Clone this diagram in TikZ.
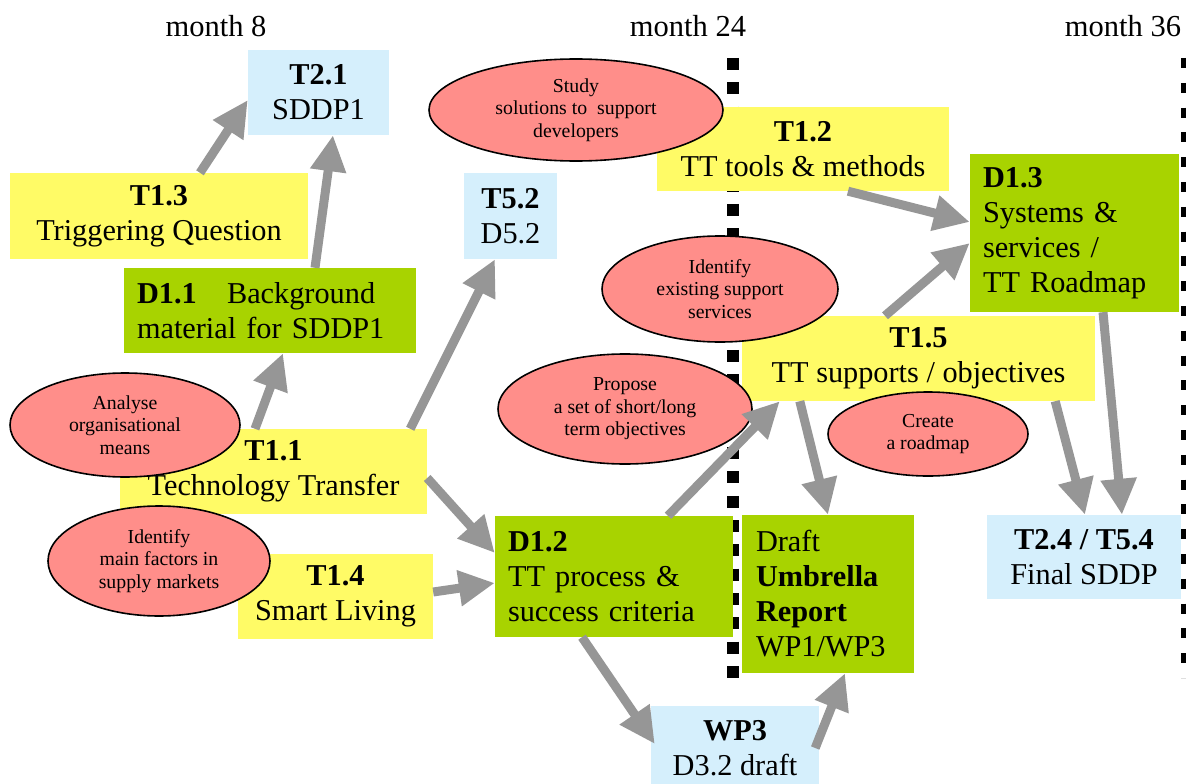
\documentclass[tikz,border=0pt]{standalone}
\usepackage{fontspec}
\setmainfont{Liberation Serif}
\usepackage{tikz}
\usetikzlibrary{arrows.meta,shapes.geometric,positioning}
\definecolor{taskyellow}{RGB}{255,251,102}
\definecolor{delivgreen}{RGB}{168,211,0}
\definecolor{sddpblue}{RGB}{213,239,252}
\definecolor{actred}{RGB}{255,142,138}
\definecolor{arrowgray}{RGB}{150,150,150}
\newcommand{\boxfont}{\fontsize{30.3}{35}\selectfont}
\newcommand{\ellfont}{\fontsize{19.8}{22.5}\selectfont}
\tikzstyle{task} = [rectangle, fill=taskyellow, inner sep=0pt, align=center, font=\boxfont]
\tikzstyle{deliv} = [rectangle, fill=delivgreen, inner sep=0pt, align=left, font=\boxfont]
\tikzstyle{sddp} = [rectangle, fill=sddpblue, inner sep=0pt, align=center, font=\boxfont]
\tikzstyle{activity} = [ellipse, draw, line width=1.6pt, fill=actred, inner sep=0pt, align=center, font=\ellfont]
\tikzstyle{line} = [draw, -{Triangle[length=36pt,width=34pt]}, line width=9pt, arrowgray]
\tikzstyle{month} = [anchor=base, font=\fontsize{30.5}{34}\selectfont]

\begin{document}
\begin{tikzpicture}[x=1pt, y=-1pt]
    \useasboundingbox (0,0) rectangle (1187,784);

    % milestones
    \draw[line width=12pt, dash pattern=on 12pt off 12.32pt] (733,58) -- (733,678);
    \draw[line width=4.5pt, dash pattern=on 10pt off 14.8pt] (1183.5,58) -- (1183.5,678);
    \node[month] (m8) at (216,37) {month 8};
    \node[month] (m24) at (688,37) {month 24};
    \node[month] (m36) at (1123,37) {month 36};

    % Place nodes
    \node [sddp, minimum width=141pt, minimum height=85pt] (t21) at (318.5,92.5) {\textbf{T2.1}\\SDDP1};
    \node [task, minimum width=298pt, minimum height=86pt] (t13) at (159,216) {\textbf{T1.3}\\Triggering Question};
    \node [deliv, minimum width=292pt, minimum height=85pt, text width=266pt] (d11) at (270,310.5) {\textbf{D1.1}\quad Background\\material for SDDP1};
    \node [sddp, minimum width=93pt, minimum height=86pt] (t52) at (510.5,216) {\textbf{T5.2}\\D5.2};
    \node [task, minimum width=292pt, minimum height=84pt] (t12) at (803,149) {\textbf{T1.2}\\TT tools \& methods};
    \node [deliv, minimum width=209pt, minimum height=158pt, text width=183pt] (d13) at (1074.5,233) {\textbf{D1.3}\\Systems \&\\services /\\TT Roadmap};
    \node [task, minimum width=353pt, minimum height=85pt] (t15) at (918.5,358.5) {\textbf{T1.5}\\TT supports / objectives};
    \node [task, minimum width=307pt, minimum height=85pt] (t11) at (273.5,471.5) {\textbf{T1.1}\\Technology Transfer};
    \node [task, minimum width=195pt, minimum height=85pt] (t14) at (335.5,596.5) {\textbf{T1.4}\\Smart Living};
    \node [deliv, minimum width=238pt, minimum height=121pt, text width=212pt] (d12) at (614,576.5) {\textbf{D1.2}\\TT process \&\\success criteria};
    \node [deliv, minimum width=172pt, minimum height=158pt, text width=144pt] (umb) at (828,594) {Draft\\\textbf{Umbrella}\\\textbf{Report}\\WP1/WP3};
    \node [sddp, minimum width=168pt, minimum height=84pt] (wp3) at (735,748) {\textbf{WP3}\\D3.2 draft};
    \node [sddp, minimum width=194pt, minimum height=84pt] (t24) at (1084,557) {\textbf{T2.4 / T5.4}\\Final SDDP};

    % activities
    \node [activity, minimum width=294pt, minimum height=102pt] (study) at (576,110) {Study\\solutions to~ support\\developers};
    \node [activity, minimum width=236pt, minimum height=106pt] (exist) at (720,289) {Identify\\existing support\\services};
    \node [activity, minimum width=254pt, minimum height=110pt] (propose) at (625,409) {Propose\\a set of short/long\\term objectives};
    \node [activity, minimum width=200pt, minimum height=84pt] (roadmap) at (928,434) {Create\\a roadmap};
    \node [activity, minimum width=230pt, minimum height=104pt] (analyse) at (125,425) {Analyse\\organisational\\means};
    \node [activity, minimum width=222pt, minimum height=110pt] (factors) at (159,561) {Identify\\main factors in\\supply markets};

    \draw [line] ([xshift=41pt]t13.north) -- ([yshift=-7.5pt]t21.west);
    \draw [line] ([xshift=45pt]d11.north) -- ([xshift=14.5pt]t21.south);
    \draw [line] ([xshift=-18.5pt]t11.north) -- ([xshift=13pt]d11.south);
    \draw [line] ([xshift=-17pt]t11.north east) -- ([xshift=-15.5pt]t52.south);
    \draw [line] ([yshift=-6.5pt]t11.east) -- ([yshift=23.5pt]d12.west);
    \draw [line] ([yshift=4.5pt]t14.east) -- ([yshift=-6.5pt]d12.west);
    \draw [line] ([xshift=54pt]d12.north) -- ([xshift=38pt]t15.south west);
    \draw [line] ([xshift=58pt]t15.south west) -- (umb.north);
    \draw [line] ([xshift=-32pt]d12.south) -- ([xshift=4pt,yshift=4pt]wp3.west);
    \draw [line] ([xshift=-4pt]wp3.east) -- ([xshift=17pt]umb.south);
    \draw [line] ([xshift=45pt]t12.south) -- ([yshift=11pt]d13.west);
    \draw [line] ([xshift=-33.5pt]t15.north) -- ([yshift=-10pt]d13.west);
    \draw [line] ([xshift=-40pt]t15.south east) -- ([xshift=1pt]t24.north);
    \draw [line] ([xshift=28.5pt]d13.south) -- ([xshift=38pt]t24.north);
\end{tikzpicture}
\end{document}
